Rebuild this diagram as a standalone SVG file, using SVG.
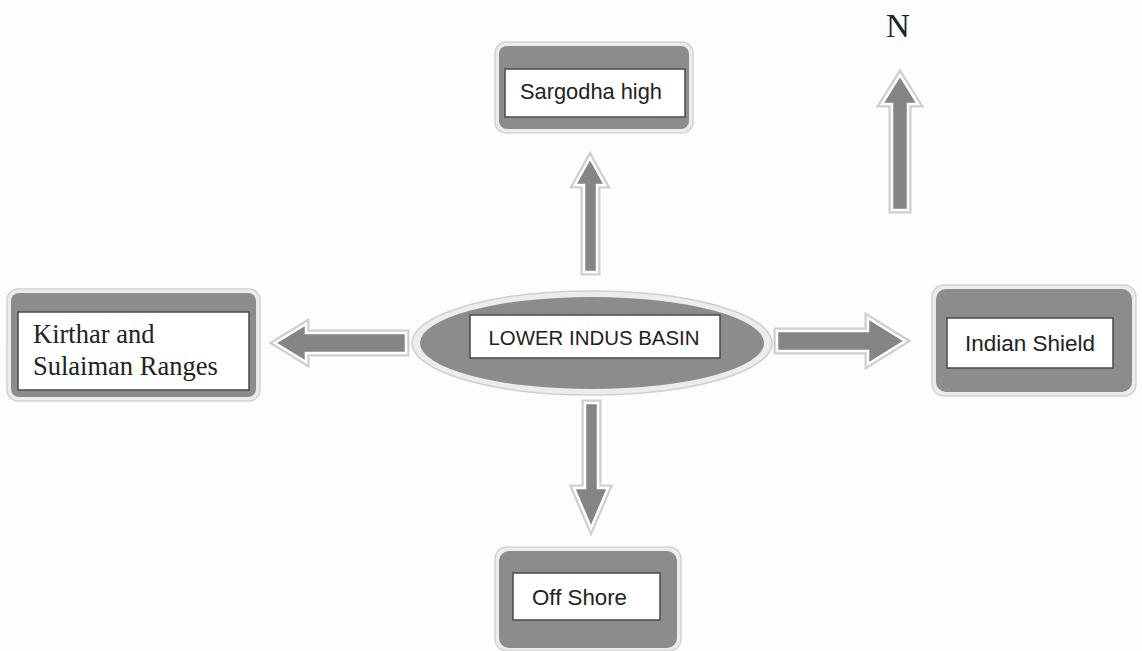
<svg xmlns="http://www.w3.org/2000/svg" width="1142" height="651" viewBox="0 0 1142 651">
<style>
.bg{fill:#fdfdfd}
.outer{fill:#ececec;stroke:#d2d2d2;stroke-width:1.5}
.dark{fill:#8c8c8c}
.inner{fill:#ffffff;stroke:#4a4a4a;stroke-width:1.5}
.sans{font-family:"Liberation Sans",Arial,sans-serif;fill:#222222}
.serif{font-family:"Liberation Serif","Times New Roman",serif;fill:#222222}
.arr-o{fill:none;stroke:#cfcfcf;stroke-width:7;stroke-linejoin:miter}
.arr-w{fill:#858585;stroke:#ffffff;stroke-width:2.5;stroke-linejoin:miter}
</style>
<rect class="bg" x="0" y="0" width="1142" height="651"/>

<g id="connectors">
  <path class="arr-o" d="M590,158 L605,185 L597,185 L597,272 L584,272 L584,185 L575,185 Z"/>
  <path class="arr-w" d="M590,158 L605,185 L597,185 L597,272 L584,272 L584,185 L575,185 Z"/>
  <path class="arr-o" d="M275,343 L306,324 L306,333 L406,333 L406,353 L306,353 L306,362 Z"/>
  <path class="arr-w" d="M275,343 L306,324 L306,333 L406,333 L406,353 L306,353 L306,362 Z"/>
  <path class="arr-o" d="M905,341 L868,318 L868,331 L777,331 L777,351 L868,351 L868,364 Z"/>
  <path class="arr-w" d="M905,341 L868,318 L868,331 L777,331 L777,351 L868,351 L868,364 Z"/>
  <path class="arr-o" d="M591,528 L574,488 L585,488 L585,403 L598,403 L598,488 L608,488 Z"/>
  <path class="arr-w" d="M591,528 L574,488 L585,488 L585,403 L598,403 L598,488 L608,488 Z"/>
</g>

<g id="north">
  <path class="arr-o" d="M900,75 L918,104 L908,104 L908,210 L892,210 L892,104 L882,104 Z"/>
  <path class="arr-w" d="M900,75 L918,104 L908,104 L908,210 L892,210 L892,104 L882,104 Z"/>
  <text class="serif" x="898" y="37" font-size="33" text-anchor="middle">N</text>
</g>

<g id="node-sargodha">
  <rect class="outer" x="495" y="42" width="198" height="91" rx="11"/>
  <rect class="dark" x="499" y="46" width="190" height="83" rx="8"/>
  <rect class="inner" x="505" y="69" width="180" height="48"/>
  <text class="sans" x="591" y="99" font-size="22" text-anchor="middle" textLength="142" lengthAdjust="spacingAndGlyphs">Sargodha high</text>
</g>

<g id="node-kirthar">
  <rect class="outer" x="7" y="289" width="253" height="112" rx="11"/>
  <rect class="dark" x="11" y="293" width="245" height="104" rx="8"/>
  <rect class="inner" x="18" y="312" width="231" height="78"/>
  <text class="serif" x="33" y="343" font-size="26.5">Kirthar and</text>
  <text class="serif" x="33" y="375" font-size="26.5">Sulaiman Ranges</text>
</g>

<g id="node-lower-indus">
  <ellipse cx="592" cy="343" rx="180" ry="52" fill="#ececec" stroke="#cfcfcf" stroke-width="1.5"/>
  <ellipse cx="592" cy="343" rx="172" ry="46" fill="#8c8c8c"/>
  <rect class="inner" x="470" y="315" width="250" height="43"/>
  <text class="sans" x="594" y="345" font-size="21" text-anchor="middle" textLength="211" lengthAdjust="spacingAndGlyphs">LOWER INDUS BASIN</text>
</g>

<g id="node-indian-shield">
  <rect class="outer" x="932" y="285" width="204" height="111" rx="12"/>
  <rect class="dark" x="936" y="289" width="196" height="103" rx="10"/>
  <rect class="inner" x="947" y="318" width="166" height="50"/>
  <text class="sans" x="1030" y="351" font-size="22" text-anchor="middle" textLength="130" lengthAdjust="spacingAndGlyphs">Indian Shield</text>
</g>

<g id="node-offshore">
  <rect class="outer" x="495" y="547" width="186" height="104" rx="12"/>
  <rect class="dark" x="499" y="551" width="178" height="97" rx="10"/>
  <rect class="inner" x="513" y="573" width="147" height="47"/>
  <text class="sans" x="532" y="605" font-size="22" textLength="95" lengthAdjust="spacingAndGlyphs">Off Shore</text>
</g>
</svg>
